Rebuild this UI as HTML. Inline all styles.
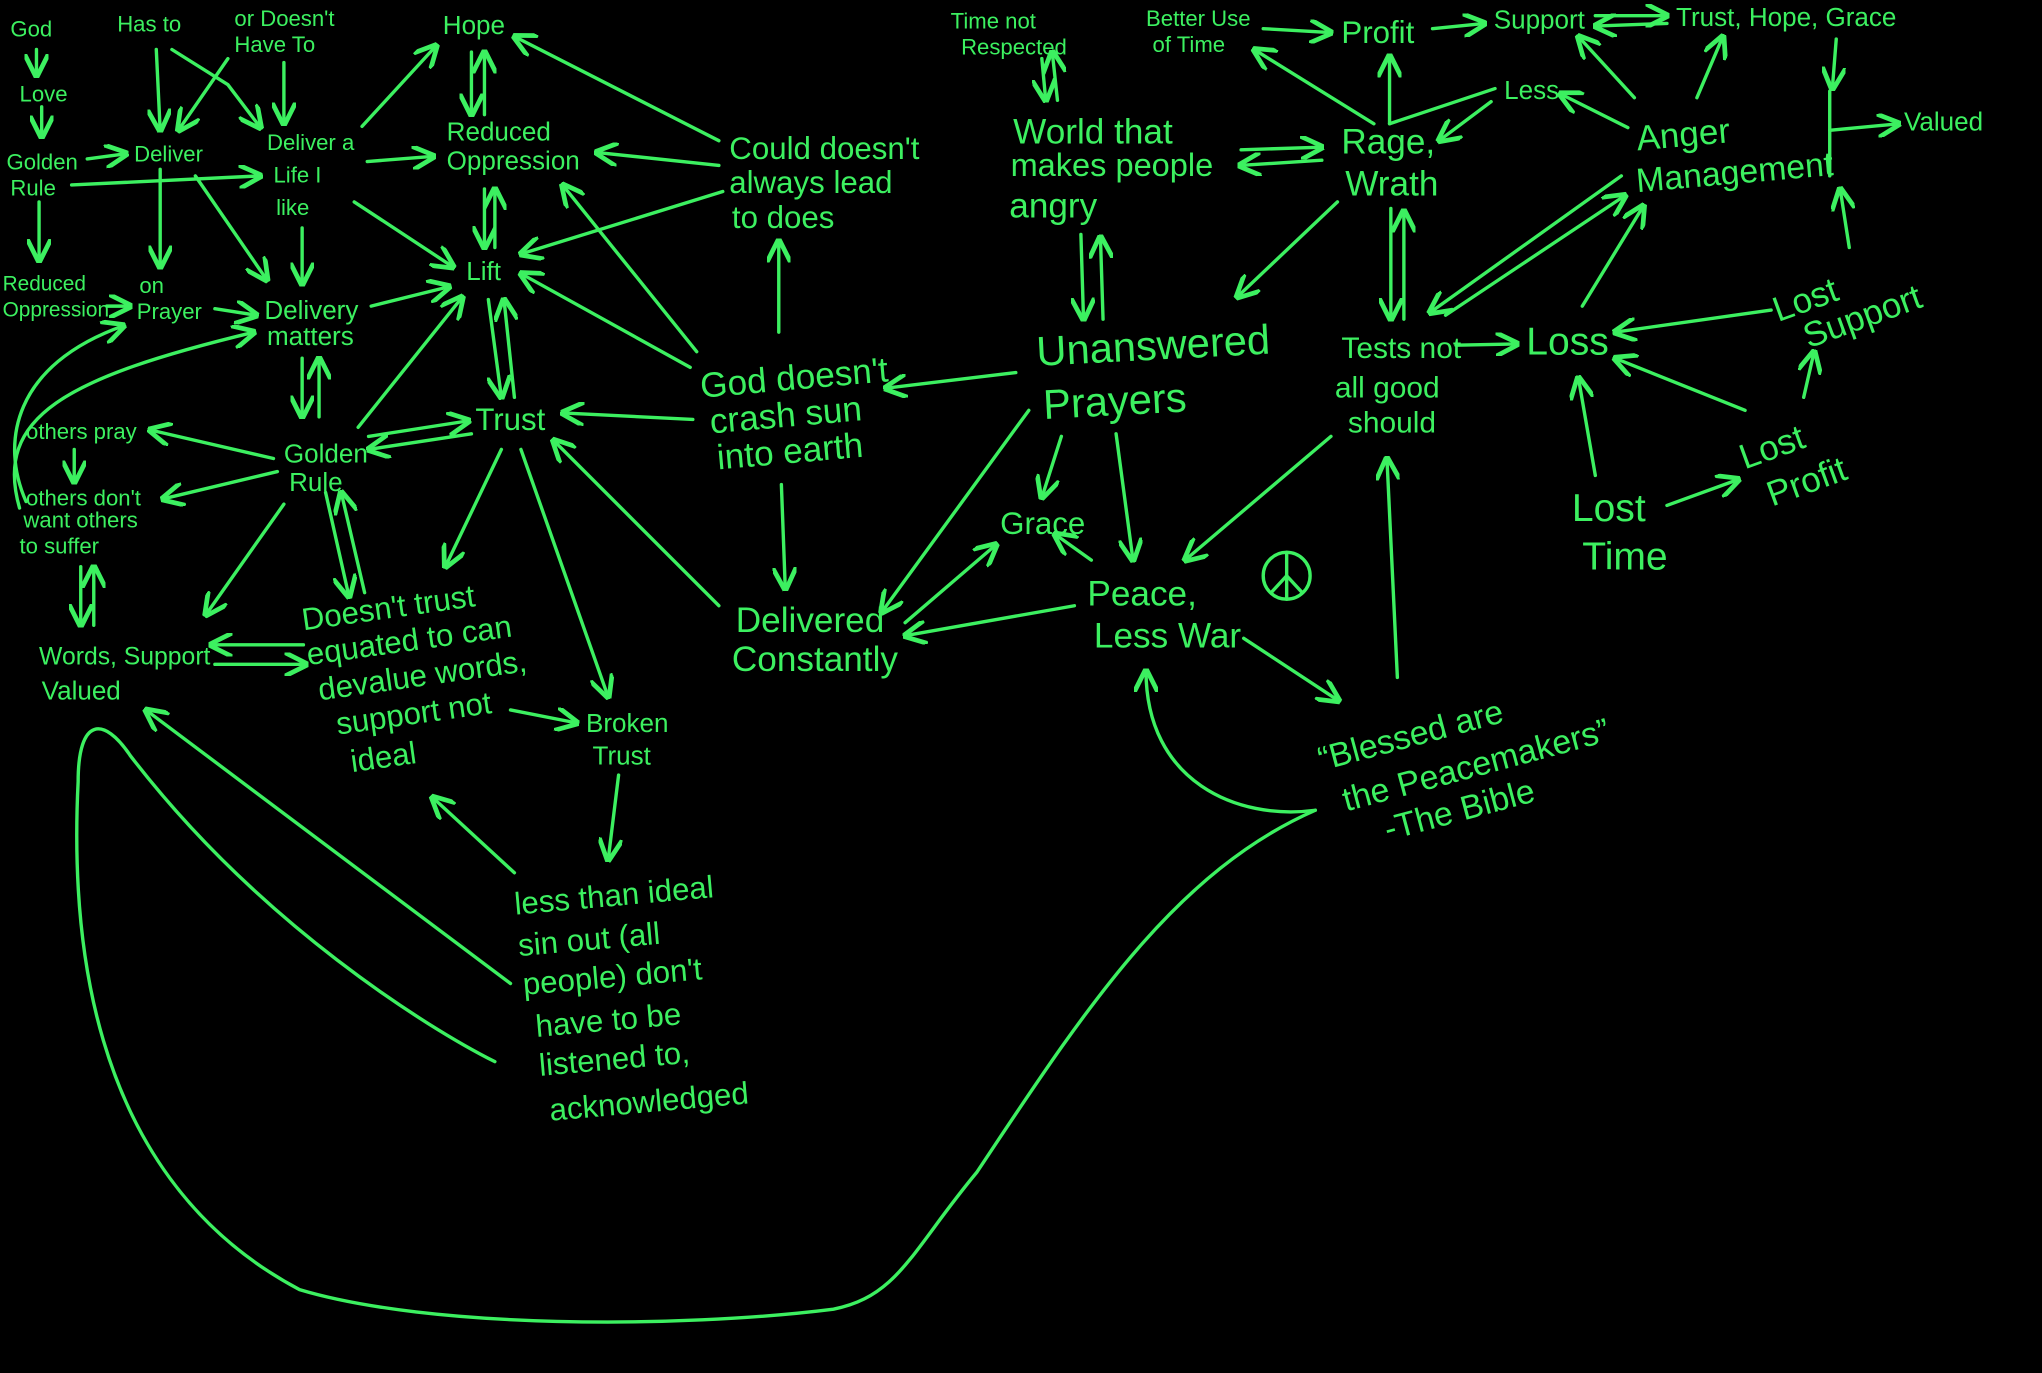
<!DOCTYPE html>
<html><head><meta charset="utf-8"><style>
html,body{margin:0;padding:0;background:#000;width:2042px;height:1373px;overflow:hidden}
svg{display:block}
text{fill:#3cf060;font-family:"Liberation Sans Narrow","Liberation Sans",sans-serif}
</style></head><body>
<svg width="2042" height="1373" viewBox="0 0 1568 1054" preserveAspectRatio="none">
<defs><marker id="a" viewBox="0 0 10 10" refX="9" refY="5" markerWidth="7" markerHeight="7" orient="auto-start-reverse"><path d="M0,0 L10,5 L0,10" fill="none" stroke="#3cf060" stroke-width="2"/></marker></defs>
<rect width="1568" height="1054" fill="#000"/>
<g stroke="#3cf060" stroke-width="2.6" fill="none" stroke-linecap="round" marker-end="url(#a)">
<line x1="28" y1="38" x2="28" y2="58"/><line x1="32" y1="82" x2="32" y2="105"/>
<line x1="120" y1="38" x2="123" y2="100"/><polyline points="132,38 175,65 200,98"/>
<line x1="175" y1="45" x2="137" y2="100"/><line x1="218" y1="48" x2="218" y2="95"/>
<line x1="67" y1="122" x2="97" y2="118"/><line x1="55" y1="142" x2="200" y2="135"/>
<line x1="30" y1="155" x2="30" y2="200"/><line x1="123" y1="130" x2="123" y2="205"/>
<line x1="150" y1="135" x2="205" y2="215"/><line x1="282" y1="124" x2="333" y2="120"/>
<line x1="278" y1="97" x2="335" y2="35"/><line x1="232" y1="175" x2="232" y2="218"/>
<line x1="272" y1="155" x2="348" y2="205"/>
<line x1="362" y1="40" x2="362" y2="88"/><line x1="372" y1="88" x2="372" y2="40"/>
<line x1="372" y1="145" x2="372" y2="190"/><line x1="380" y1="190" x2="380" y2="145"/>
<line x1="552" y1="127" x2="458" y2="117"/><line x1="552" y1="108" x2="395" y2="28"/>
<line x1="555" y1="147" x2="400" y2="195"/><line x1="82" y1="235" x2="100" y2="235"/>
<line x1="165" y1="237" x2="197" y2="242"/><line x1="285" y1="235" x2="345" y2="220"/>
<line x1="232" y1="275" x2="232" y2="320"/><line x1="245" y1="320" x2="245" y2="275"/>
<line x1="275" y1="328" x2="355" y2="228"/>
<line x1="375" y1="230" x2="385" y2="305"/><line x1="395" y1="305" x2="387" y2="230"/>
<line x1="283" y1="335" x2="360" y2="323"/><line x1="362" y1="333" x2="283" y2="345"/>
<line x1="210" y1="352" x2="115" y2="330"/><line x1="57" y1="345" x2="57" y2="370"/>
<line x1="213" y1="362" x2="125" y2="383"/>
<line x1="62" y1="435" x2="62" y2="480"/><line x1="72" y1="480" x2="72" y2="435"/>
<line x1="218" y1="387" x2="158" y2="472"/>
<line x1="250" y1="378" x2="268" y2="458"/><line x1="280" y1="455" x2="262" y2="378"/>
<line x1="233" y1="495" x2="162" y2="495"/><line x1="165" y1="510" x2="235" y2="510"/>
<line x1="385" y1="345" x2="342" y2="435"/><line x1="400" y1="345" x2="467" y2="535"/>
<line x1="392" y1="545" x2="443" y2="555"/><line x1="475" y1="595" x2="467" y2="660"/>
<line x1="395" y1="670" x2="332" y2="612"/><line x1="392" y1="755" x2="112" y2="545"/>
<line x1="530" y1="282" x2="400" y2="210"/><line x1="535" y1="270" x2="432" y2="142"/>
<line x1="532" y1="322" x2="432" y2="317"/><line x1="598" y1="255" x2="598" y2="185"/>
<line x1="600" y1="372" x2="603" y2="452"/><line x1="552" y1="465" x2="425" y2="338"/>
<line x1="695" y1="478" x2="765" y2="418"/><line x1="780" y1="286" x2="680" y2="298"/>
<line x1="790" y1="315" x2="677" y2="470"/><line x1="815" y1="335" x2="800" y2="382"/>
<line x1="838" y1="430" x2="810" y2="410"/><line x1="825" y1="465" x2="695" y2="488"/>
<line x1="857" y1="333" x2="870" y2="430"/>
<line x1="830" y1="180" x2="832" y2="245"/><line x1="847" y1="245" x2="845" y2="182"/>
<line x1="800" y1="45" x2="803" y2="77"/><line x1="812" y1="77" x2="808" y2="40"/>
<line x1="953" y1="115" x2="1015" y2="113"/><line x1="1015" y1="123" x2="952" y2="127"/>
<line x1="1027" y1="155" x2="950" y2="228"/><line x1="1055" y1="95" x2="963" y2="38"/>
<line x1="1067" y1="95" x2="1067" y2="43"/><line x1="970" y1="22" x2="1022" y2="25"/>
<line x1="1100" y1="22" x2="1140" y2="18"/>
<line x1="1225" y1="12" x2="1280" y2="12"/><line x1="1280" y1="18" x2="1225" y2="20"/>
<line x1="1145" y1="78" x2="1105" y2="108"/><line x1="1250" y1="98" x2="1198" y2="72"/>
<line x1="1255" y1="75" x2="1212" y2="28"/><line x1="1303" y1="75" x2="1323" y2="28"/>
<line x1="1410" y1="30" x2="1407" y2="68"/><line x1="1405" y1="100" x2="1458" y2="95"/>
<line x1="1245" y1="135" x2="1098" y2="240"/><line x1="1110" y1="242" x2="1248" y2="150"/>
<line x1="1068" y1="160" x2="1068" y2="245"/><line x1="1078" y1="245" x2="1078" y2="162"/>
<line x1="1118" y1="265" x2="1165" y2="264"/><line x1="1022" y1="335" x2="910" y2="430"/>
<line x1="1073" y1="520" x2="1065" y2="352"/><line x1="955" y1="490" x2="1028" y2="538"/>
<path d="M1010,622 C950,630 880,600 880,515"/>
<line x1="1360" y1="238" x2="1240" y2="255"/><line x1="1340" y1="315" x2="1240" y2="275"/>
<line x1="1225" y1="365" x2="1212" y2="290"/><line x1="1280" y1="388" x2="1335" y2="368"/>
<line x1="1385" y1="305" x2="1393" y2="270"/><line x1="1420" y1="190" x2="1413" y2="145"/>
<line x1="1215" y1="235" x2="1262" y2="158"/>
<path d="M20,385 C0,340 10,280 95,250"/><path d="M15,390 C-5,320 50,290 195,255"/>
</g>
<g stroke="#3cf060" stroke-width="2.6" fill="none" stroke-linecap="round">
<line x1="1148" y1="68" x2="1067" y2="95"/>
<line x1="1405" y1="70" x2="1405" y2="135"/>
<path d="M380,815 C330,790 200,710 100,580 C80,550 60,550 60,600 C55,700 60,900 230,990 C330,1020 520,1020 640,1005 C690,995 700,960 750,900 C830,780 900,670 1010,622"/>
<circle cx="988" cy="442" r="18"/><line x1="988" y1="424" x2="988" y2="460"/>
<line x1="988" y1="442" x2="976" y2="455"/><line x1="988" y1="442" x2="1000" y2="455"/>
</g>
<g font-size="17">
<text x="8" y="28">God</text><text x="90" y="24">Has to</text>
<text x="180" y="20">or Doesn't</text><text x="180" y="40">Have To</text>
<text x="15" y="78">Love</text><text x="5" y="130">Golden</text><text x="8" y="150">Rule</text>
<text x="103" y="124">Deliver</text>
<text x="205" y="115">Deliver a</text><text x="210" y="140">Life I</text><text x="212" y="165">like</text>
<text x="2" y="223" font-size="16">Reduced</text><text x="2" y="243" font-size="16">Oppression</text>
<text x="107" y="225">on</text><text x="105" y="245">Prayer</text>
<text x="20" y="337">others pray</text>
<text x="20" y="388">others don't</text><text x="18" y="405">want others</text><text x="15" y="425">to suffer</text>
<text x="730" y="22">Time not</text><text x="738" y="42">Respected</text>
<text x="880" y="20">Better Use</text><text x="885" y="40">of Time</text>
</g>
<g font-size="20">
<text x="340" y="26">Hope</text>
<text x="343" y="108">Reduced</text><text x="343" y="130">Oppression</text>
<text x="358" y="215">Lift</text>
<text x="203" y="245">Delivery</text><text x="205" y="265">matters</text>
<text x="218" y="355">Golden</text><text x="222" y="377">Rule</text>
<text x="30" y="510" font-size="19">Words, Support</text><text x="32" y="537">Valued</text>
<text x="450" y="562">Broken</text><text x="455" y="587">Trust</text>
<text x="1147" y="22">Support</text><text x="1287" y="20">Trust, Hope, Grace</text>
<text x="1155" y="76">Less</text><text x="1462" y="100">Valued</text>
</g>
<g font-size="24">
<text x="560" y="122">Could doesn't</text><text x="560" y="148">always lead</text><text x="562" y="175">to does</text>
<text x="365" y="330">Trust</text><text x="1030" y="33">Profit</text>
<text x="768" y="410">Grace</text>
<text x="1030" y="275" font-size="23">Tests not</text><text x="1025" y="305" font-size="23">all good</text><text x="1035" y="332" font-size="23">should</text>
<g transform="rotate(-8 300 530)">
<text x="240" y="475">Doesn't trust</text><text x="240" y="502">equated to can</text><text x="245" y="530">devalue words,</text><text x="255" y="558">support not</text><text x="262" y="588">ideal</text>
</g>
<g transform="rotate(-5 480 770)">
<text x="402" y="695">less than ideal</text><text x="402" y="727">sin out (all</text><text x="403" y="757">people) don't</text><text x="410" y="790">have to be</text><text x="410" y="820">listened to,</text><text x="415" y="855">acknowledged</text>
</g>
</g>
<g font-size="27">
<g transform="rotate(-5 600 320)">
<text x="540" y="300">God doesn't</text><text x="545" y="328">crash sun</text><text x="548" y="356">into earth</text>
</g>
<text x="565" y="485">Delivered</text><text x="562" y="515">Constantly</text>
<text x="778" y="110">World that</text><text x="776" y="135" font-size="25">makes people</text><text x="775" y="167">angry</text>
<text x="1030" y="118">Rage,</text><text x="1033" y="150">Wrath</text>
<g transform="rotate(-5 1320 120)"><text x="1258" y="110">Anger</text><text x="1255" y="142" font-size="26">Management</text></g>
<g transform="rotate(-3 870 290)"><text x="797" y="277" font-size="32">Unanswered</text><text x="800" y="318" font-size="32">Prayers</text></g>
<text x="1172" y="272" font-size="30">Loss</text>
<g transform="rotate(-20 1400 240)"><text x="1365" y="235">Lost</text><text x="1380" y="262">Support</text></g>
<g transform="rotate(-20 1375 355)"><text x="1340" y="348">Lost</text><text x="1350" y="382">Profit</text></g>
<text x="1207" y="400" font-size="30">Lost</text><text x="1215" y="437" font-size="30">Time</text>
<text x="835" y="465">Peace,</text><text x="840" y="497">Less War</text>
<g transform="rotate(-15 1100 600)"><text x="1020" y="570" font-size="26">“Blessed are</text><text x="1030" y="605" font-size="26">the Peacemakers”</text><text x="1055" y="635" font-size="26">-The Bible</text></g>
</g>
</svg>
</body></html>
